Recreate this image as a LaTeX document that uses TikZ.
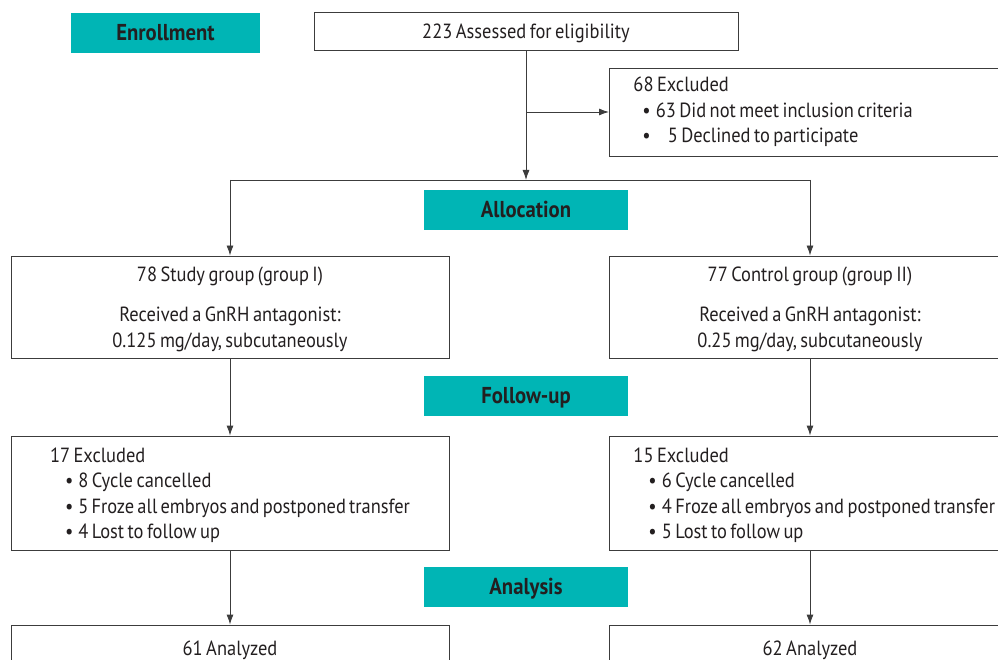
\documentclass[tikz,border=0pt]{standalone}
\usepackage{fontspec}
\setmainfont[FakeStretch=0.9,WordSpace=0.7]{PT Sans}
\usepackage{tikz}
\usetikzlibrary{shapes}
\usetikzlibrary{arrows}
\usetikzlibrary{arrows.meta}

\definecolor{tealbar}{RGB}{0,181,181}
\definecolor{inkgray}{RGB}{35,31,32}
\definecolor{linegray}{RGB}{60,60,60}

% keep the font's own word spacing inside ragged boxes
\newcommand{\natspace}{\spaceskip=0pt\xspaceskip=0pt\relax}
\newcommand{\bul}[1]{\hspace*{#1}\textbullet\hspace{5pt}}

\begin{document}
\begin{tikzpicture}[x=1pt,y=-1pt]
	\tikzstyle{every node}=[font=\fontsize{20.5}{25.5}\selectfont, text=inkgray]
	\tikzstyle{stage}=[rectangle, fill=tealbar, minimum width=204pt, minimum height=40pt, inner sep=0pt, text height=15pt, text depth=0pt, font=\fontsize{23}{24}\selectfont\bfseries]
	\tikzstyle{box}=[rectangle, draw=linegray, line width=0.9pt, inner sep=0pt, align=center, text height=16pt, text depth=0pt]
	\tikzstyle{listbox}=[rectangle, draw=linegray, line width=0.9pt, inner ysep=0pt, align=left]
	\tikzstyle{conn}=[draw=linegray, line width=0.9pt]
	\tikzset{>={Latex[length=10pt,width=7pt]}}

	\useasboundingbox (0,0) rectangle (998,660);
	\clip (0,0) rectangle (998,660);

	% stage labels
	\node[stage, minimum width=189pt] (enroll) at (165.5,33) {Enrollment};
	\node[stage] (alloc) at (526,210) {Allocation};
	\node[stage] (follow) at (526,395.5) {Follow-up};
	\node[stage] (analysis) at (526,586.5) {Analysis};

	% enrollment
	\node[box, minimum width=424pt, minimum height=38pt] (assess) at (526,31) {223 Assessed for eligibility};
	\node[listbox, anchor=west, inner xsep=24pt, text width=370pt, minimum height=88pt, text height=0pt, text depth=40pt] (excl) at (609,112)
		{\natspace 68 Excluded\\
		\bul{9pt}63 Did not meet inclusion criteria\\
		\bul{9pt}\hspace{12pt}5 Declined to participate};

	% allocation
	\node[box, minimum width=438pt, minimum height=102pt, text height=80pt, text depth=0pt] (study) at (230,307)
		{78 Study group (group I)\\[14.5pt]
		Received a GnRH antagonist:\\
		0.125 mg/day, subcutaneously};
	\node[box, minimum width=402pt, minimum height=102pt, text height=80pt, text depth=0pt] (control) at (810,307)
		{77 Control group (group II)\\[14.5pt]
		Received a GnRH antagonist:\\
		0.25 mg/day, subcutaneously};

	% follow-up
	\node[listbox, inner xsep=39pt, text width=360pt, minimum height=114pt, text height=0pt, text depth=62pt] (lostI) at (230,493)
		{\natspace 17 Excluded\\
		\bul{15pt}8 Cycle cancelled\\
		\bul{15pt}5 Froze all embryos and postponed transfer\\
		\bul{15pt}4 Lost to follow up};
	\node[listbox, anchor=west, inner xsep=24pt, text width=380pt, minimum height=114pt, text height=0pt, text depth=62pt] (lostII) at (609,493)
		{\natspace 15 Excluded\\
		\bul{15pt}6 Cycle cancelled\\
		\bul{15pt}4 Froze all embryos and postponed transfer\\
		\bul{15pt}5 Lost to follow up};

	% analysis
	\node[box, minimum width=438pt, minimum height=44pt] (anaI) at (230,647) {61 Analyzed};
	\node[box, minimum width=402pt, minimum height=44pt] (anaII) at (810,647) {62 Analyzed};

	% connectors
	\coordinate (exbranch) at (526,112);
	\coordinate (split) at (526,180);
	\coordinate (splitI) at (230,180);
	\coordinate (splitII) at (810,180);

	\draw[conn,->] (assess.south) -- (split);
	\draw[conn,->] (exbranch) -- (excl.west);
	\draw[conn] (splitI) -- (splitII);
	\draw[conn,->] (splitI) -- (study.north);
	\draw[conn,->] (splitII) -- (control.north);
	\draw[conn,->] (study.south) -- (lostI.north);
	\draw[conn,->] (control.south) -- (control.south |- lostII.north);
	\draw[conn,->] (lostI.south) -- (anaI.north);
	\draw[conn,->] (anaII.north |- lostII.south) -- (anaII.north);
\end{tikzpicture}
\end{document}
